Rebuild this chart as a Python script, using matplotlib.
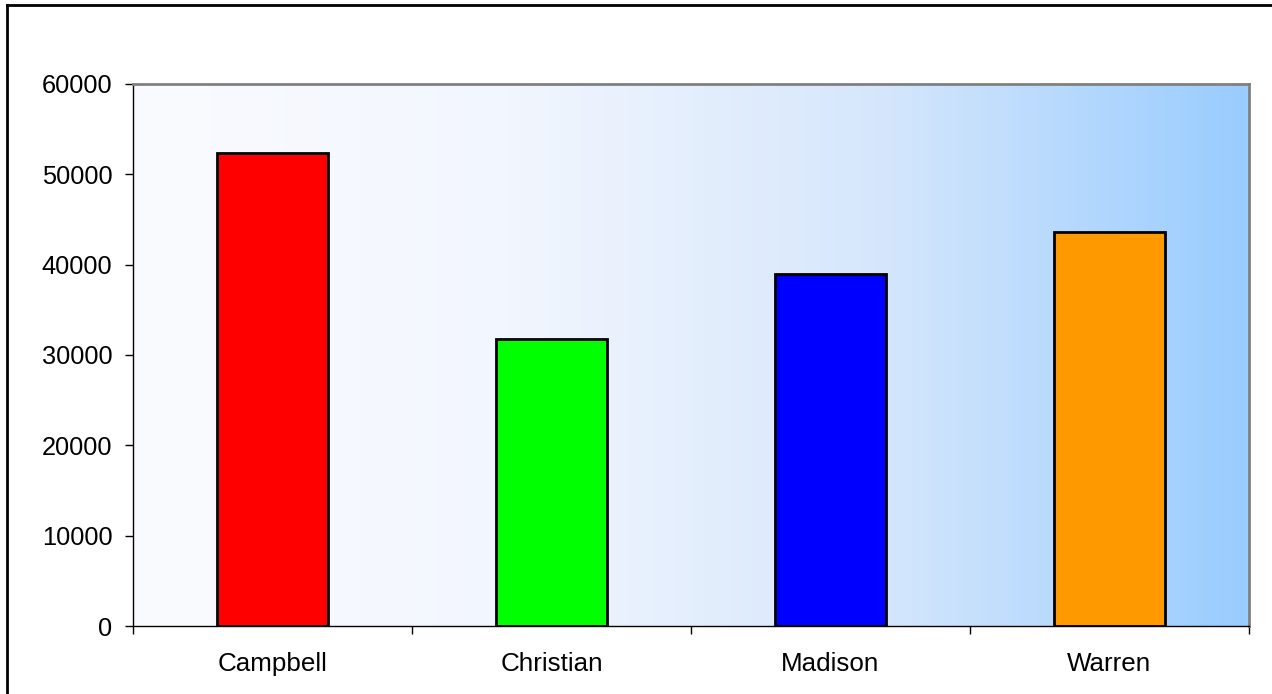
import matplotlib.pyplot as plt
import numpy as np
from matplotlib.colors import LinearSegmentedColormap
from matplotlib.lines import Line2D

counties = ["Campbell", "Christian", "Madison", "Warren"]
values = [52400, 31800, 39000, 43650]
colors = ["#FF0000", "#00FF00", "#0000FF", "#FF9900"]
yticks = [0, 10000, 20000, 30000, 40000, 50000, 60000]

plt.rcParams['font.family'] = ['Liberation Sans', 'DejaVu Sans']

fig = plt.figure(figsize=(12.72, 6.94), dpi=100)
ax = fig.add_axes([133/1272, 1 - 626/694, (1249-133)/1272, (626-84)/694])

# background gradient, white -> light blue
grad = LinearSegmentedColormap.from_list("bg", ["#FAFBFF", "#F2F6FE", "#D6E7FC", "#99CCFF"])
ax.imshow(np.linspace(0, 1, 256).reshape(1, -1), cmap=grad, aspect="auto",
          extent=[-0.5, len(counties) - 0.5, 0, 60000], zorder=0)

x = np.arange(len(counties))
ax.bar(x, values, width=0.4, color=colors, edgecolor="black", linewidth=2, zorder=2)

ax.set_xlim(-0.5, len(counties) - 0.5)
ax.set_ylim(0, 60000)
ax.set_yticks(yticks)
ax.set_yticklabels([str(v) for v in yticks], fontsize=18.3)
ax.set_xticks(x)
ax.set_xticklabels(counties, fontsize=18.7)
ax.tick_params(axis="x", length=0, pad=19)
ax.tick_params(axis="y", length=5.8, width=1, pad=9)

# x tick marks sit between categories
ax.set_xticks(np.arange(-0.5, len(counties)), minor=True)
ax.tick_params(axis="x", which="minor", length=6, width=1)

for s in ["top", "right"]:
    ax.spines[s].set_color("#808080")
    ax.spines[s].set_linewidth(2)
for s in ["left", "bottom"]:
    ax.spines[s].set_color("black")
    ax.spines[s].set_linewidth(1)

# outer frame, only top and left visible
fig.add_artist(Line2D([7/1272, 7/1272], [0, 1 - 5/694], color="black", lw=2))
fig.add_artist(Line2D([7/1272, 1], [1 - 5/694, 1 - 5/694], color="black", lw=2))

fig.savefig("out.png", dpi=100, facecolor="white")
